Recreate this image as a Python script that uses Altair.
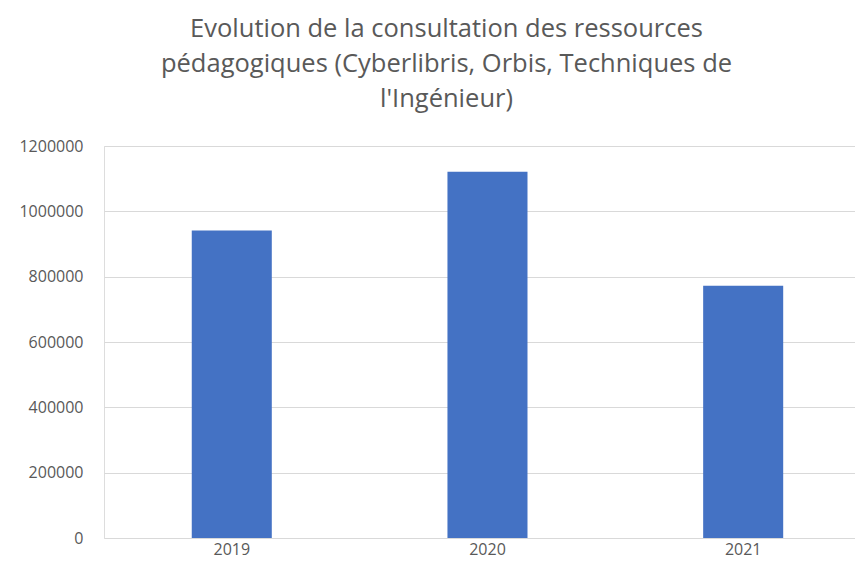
import altair as alt
import pandas as pd

years = ["2019", "2020", "2021"]
consultations = [941000, 1121000, 772000]
y_ticks = [0, 200000, 400000, 600000, 800000, 1000000, 1200000]
title_lines = [
    "Evolution de la consultation des ressources",
    "pédagogiques (Cyberlibris, Orbis, Techniques de",
    "l'Ingénieur)",
]

df = pd.DataFrame({"annee": years, "valeur": consultations})

FONT = "Open Sans"
GREY = "#595959"

chart = (
    alt.Chart(df)
    .mark_bar(color="#4472C4")
    .encode(
        x=alt.X(
            "annee:N",
            sort=years,
            scale=alt.Scale(paddingInner=0.687, paddingOuter=0.312, align=0.55),
            axis=alt.Axis(
                title=None,
                labelAngle=0,
                ticks=False,
                domain=False,
                labelPadding=3,
                labelFont=FONT,
                labelFontSize=16,
                labelColor=GREY,
            ),
        ),
        y=alt.Y(
            "valeur:Q",
            scale=alt.Scale(domain=[0, 1200000], nice=False),
            axis=alt.Axis(
                title=None,
                values=y_ticks,
                format="d",
                ticks=False,
                domain=False,
                labelPadding=21,
                labelFont=FONT,
                labelFontSize=16,
                labelColor=GREY,
                gridColor="#d9d9d9",
                gridWidth=1,
            ),
        ),
    )
    .properties(
        width=751,
        height=392,
        autosize=alt.AutoSizeParams(type="none"),
        padding={"left": 96, "top": 138, "right": 0, "bottom": 23},
        title=alt.TitleParams(
            text=title_lines,
            font=FONT,
            fontSize=25.5,
            fontWeight="normal",
            color=GREY,
            lineHeight=35,
            anchor="middle",
            dx=-33,
            offset=26,
        ),
    )
    .configure_view(stroke=None)
    .configure(background="white")
)

chart.save("out.html", embed_options={"renderer": "svg", "actions": False})
